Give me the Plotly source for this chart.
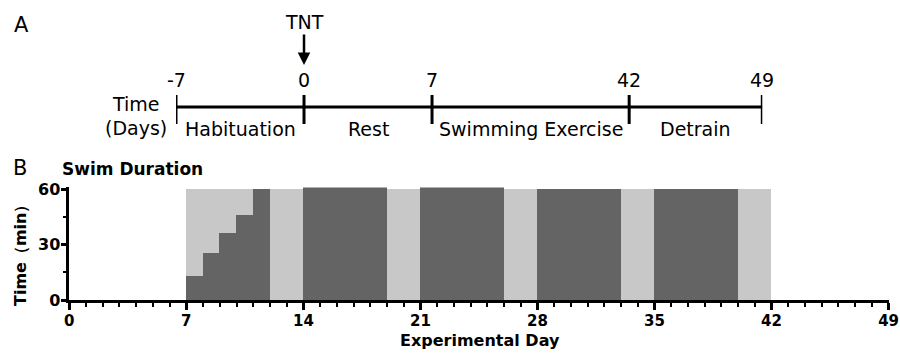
import plotly.graph_objects as go

# ---------------- data ----------------
# Panel A: schematic timeline
timeline_days = ["-7", "0", "7", "42", "49"]
phase_names = ["Habituation", "Rest", "Swimming Exercise", "Detrain"]
# Panel B: swim duration
ramp_start_day = [7, 8, 9, 10, 11]
ramp_minutes = [13, 25, 36, 46, 60]
block_start_day = [14, 21, 28, 35]
block_end_day = [19, 26, 33, 40]
block_minutes = [61, 61, 60, 60]
rest_start_day = [7]
rest_end_day = [42]
rest_minutes = [60]
x_ticks = [0, 7, 14, 21, 28, 35, 42, 49]
y_ticks = [0, 30, 60]

# ---------------- layout constants ----------------
W, H = 900, 356
FONT = "DejaVu Sans"
DARK = "#646464"
LIGHT = "#c8c8c8"
tl_pos = [0, 1, 2, 3.54, 4.58]  # schematic spacing of the timeline
TOP_H = 150  # pixel height of panel A strip

fig = go.Figure()

# light grey background (rest days)
fig.add_trace(go.Bar(
    x=[(s + e) / 2 for s, e in zip(rest_start_day, rest_end_day)],
    y=rest_minutes,
    width=[e - s for s, e in zip(rest_start_day, rest_end_day)],
    marker=dict(color=LIGHT, line=dict(width=0)),
    xaxis="x", yaxis="y", hoverinfo="skip", showlegend=False))
# ramp-up steps
fig.add_trace(go.Bar(
    x=[s + 0.5 for s in ramp_start_day], y=ramp_minutes, width=[1] * len(ramp_start_day),
    marker=dict(color=DARK, line=dict(width=0)),
    xaxis="x", yaxis="y", hoverinfo="skip", showlegend=False))
# weekly swim blocks
fig.add_trace(go.Bar(
    x=[(s + e) / 2 for s, e in zip(block_start_day, block_end_day)],
    y=block_minutes,
    width=[e - s for s, e in zip(block_start_day, block_end_day)],
    marker=dict(color=DARK, line=dict(width=0)),
    xaxis="x", yaxis="y", hoverinfo="skip", showlegend=False))

# timeline (panel A) on its own hidden axes (y2 in pixel rows of the strip)
TL_Y = 107
fig.add_trace(go.Scatter(
    x=[tl_pos[0], tl_pos[-1]], y=[TL_Y, TL_Y], mode="lines",
    line=dict(color="black", width=3), xaxis="x2", yaxis="y2",
    hoverinfo="skip", showlegend=False))
tx, ty = [], []
for p in tl_pos:
    tx += [p, p, None]
    ty += [95, 124, None]
fig.add_trace(go.Scatter(
    x=tx, y=ty, mode="lines", line=dict(color="black", width=3),
    xaxis="x2", yaxis="y2", hoverinfo="skip", showlegend=False))


def txt(x, y, text, size, bold=False, xref="paper", yref="paper", **kw):
    f = dict(family=FONT, size=size, color="black")
    if bold:
        f["weight"] = "bold"
    d = dict(x=x, y=y, xref=xref, yref=yref, text=text, showarrow=False,
             xanchor="center", yanchor="middle", font=f)
    d.update(kw)
    return d


ann = []
for p, lab in zip(tl_pos, timeline_days):
    ann.append(txt(p, 80, lab, 19, xref="x2", yref="y2"))
for i, name in enumerate(phase_names):
    ann.append(txt((tl_pos[i] + tl_pos[i + 1]) / 2, 129, name, 19, xref="x2", yref="y2"))
tnt = txt(tl_pos[1], 65, "TNT", 19, xref="x2", yref="y2")
tnt.update(showarrow=True, ax=0, ay=-43, arrowhead=2, arrowsize=1,
           arrowwidth=2.5, arrowcolor="black", standoff=0)
ann.append(tnt)
ann.append(txt(136 / W, 1 - 104 / H, "Time", 19))
ann.append(txt(136 / W, 1 - 128 / H, "(Days)", 19))
ann.append(txt(21 / W, 1 - 25 / H, "A", 21))
ann.append(txt(20 / W, 1 - 168 / H, "B", 21))
ann.append(txt(60 / W, 1 - 169 / H, "Swim Duration", 17, bold=True, xanchor="left"))
ann.append(txt(480 / W, 1 - 340 / H, "Experimental Day", 16, bold=True))
ann.append(txt(21 / W, 1 - 252 / H, "Time（min）", 16, bold=True, textangle=-90))

px_per_min = 110.7 / 60
y_top = 61
y_dom_bot = (H - 300) / H
y_dom_top = (H - (300 - y_top * px_per_min)) / H

fig.update_layout(
    width=W, height=H, margin=dict(l=0, r=0, t=0, b=0, autoexpand=False),
    paper_bgcolor="white", plot_bgcolor="rgba(0,0,0,0)",
    barmode="overlay", bargap=0, showlegend=False,
    annotations=ann,
    xaxis=dict(domain=[69.3 / W, 888.6 / W], range=[0, 49], anchor="y", automargin=False,
               tickvals=x_ticks, ticktext=[str(v) for v in x_ticks],
               ticks="outside", ticklen=7, tickwidth=2.5, tickcolor="black",
               ticklabelstandoff=-2,
               showline=True, linewidth=2.5, linecolor="black",
               showgrid=False, zeroline=False,
               minor=dict(dtick=1, tick0=0, ticks="outside", ticklen=4,
                          tickwidth=2, tickcolor="black", showgrid=False),
               tickfont=dict(family=FONT, size=15, color="black", weight="bold")),
    yaxis=dict(domain=[y_dom_bot, y_dom_top], range=[0, y_top], anchor="x", automargin=False,
               tickvals=y_ticks, ticktext=[str(v) for v in y_ticks],
               ticks="outside", ticklen=6, tickwidth=2.5, tickcolor="black",
               ticklabelstandoff=-3,
               showline=True, linewidth=2.5, linecolor="black",
               showgrid=False, zeroline=False,
               minor=dict(dtick=15, tick0=0, ticks="outside", ticklen=4,
                          tickwidth=2, tickcolor="black", showgrid=False),
               tickfont=dict(family=FONT, size=16, color="black", weight="bold")),
    xaxis2=dict(domain=[176 / W, 762.3 / W], range=[tl_pos[0], tl_pos[-1]],
                anchor="y2", visible=False, automargin=False),
    yaxis2=dict(domain=[1 - TOP_H / H, 1], range=[TOP_H, 0], anchor="x2",
                visible=False, automargin=False),
)

fig.write_html("out.html", config={"displayModeBar": False},
               post_script="document.body.style.margin='0';document.body.style.overflow='hidden';")
